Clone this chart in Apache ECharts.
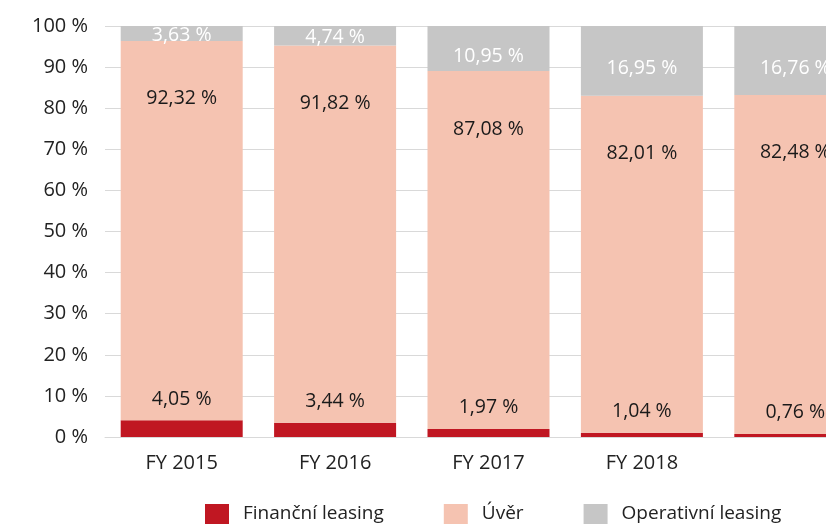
<!DOCTYPE html>
<html>
<head>
<meta charset="utf-8">
<script src="https://cdn.jsdelivr.net/npm/echarts@6/dist/echarts.min.js"></script>
<style>
    html, body {
        margin: 0;
        padding: 0;
        overflow: hidden;
        background: #fff;
    }
    .chart {
        width: 900px;
        height: 524px;
    }
</style>
</head>
<body>
<div id="main" class="chart"></div>
<script>
// data (percent)
const categories = ['FY 2015', 'FY 2016', 'FY 2017', 'FY 2018', ''];
const financniLeasing = [4.05, 3.44, 1.97, 1.04, 0.76];
const uver = [92.32, 91.82, 87.08, 82.01, 82.48];
const operativniLeasing = [3.63, 4.74, 10.95, 16.95, 16.76];
const yTicks = [0, 10, 20, 30, 40, 50, 60, 70, 80, 90, 100];

const fmt = (p) => p.value.toFixed(2).replace('.', ',') + ' %';
const font = '"Open Sans", "Noto Sans", sans-serif';

// thin grey segments: keep the white label inside the segment
const operativniData = operativniLeasing.map((v) => {
    return v < 8 ? { value: v, label: { offset: [0, 2] } } : v;
});

var myChart = echarts.init(document.getElementById('main'));
var option = {
    animation: false,
    textStyle: { fontFamily: font },
    grid: {
        left: 105,
        top: 26,
        bottom: 87,
        width: 767,
        containLabel: false
    },
    legend: {
        left: 205,
        top: 504,
        padding: 0,
        itemWidth: 24,
        itemHeight: 20,
        itemGap: 60,
        icon: 'rect',
        textStyle: { fontSize: 19, color: '#222', padding: [0, 0, 0, 9] },
        data: ['Finanční leasing', 'Úvěr', 'Operativní leasing']
    },
    xAxis: {
        type: 'category',
        data: categories,
        axisLine: { show: true, lineStyle: { color: '#d9d9d9' } },
        axisTick: { show: false },
        axisLabel: { fontSize: 20, color: '#222', margin: 16 }
    },
    yAxis: {
        type: 'value',
        min: yTicks[0],
        max: yTicks[yTicks.length - 1],
        interval: 10,
        axisLine: { show: false },
        axisTick: { show: false },
        axisLabel: { fontSize: 20, color: '#222', margin: 17, formatter: '{value} %' },
        splitLine: { lineStyle: { color: '#d9d9d9' } }
    },
    series: [
        {
            name: 'Finanční leasing',
            type: 'bar',
            stack: 'total',
            barWidth: 122,
            data: financniLeasing,
            itemStyle: { color: '#c01722' },
            label: { show: true, position: 'top', distance: 11, fontSize: 19.5, color: '#1a1a1a', formatter: fmt }
        },
        {
            name: 'Úvěr',
            type: 'bar',
            stack: 'total',
            data: uver,
            itemStyle: { color: '#f5c3b1' },
            label: { show: true, position: 'insideTop', distance: 48, fontSize: 19.5, color: '#1a1a1a', formatter: fmt }
        },
        {
            name: 'Operativní leasing',
            type: 'bar',
            stack: 'total',
            data: operativniData,
            itemStyle: { color: '#c6c6c6' },
            label: { show: true, position: 'inside', offset: [0, 8], fontSize: 19.5, color: '#ffffff', formatter: fmt }
        }
    ]
};

option && myChart.setOption(option);
</script>
</body>
</html>
